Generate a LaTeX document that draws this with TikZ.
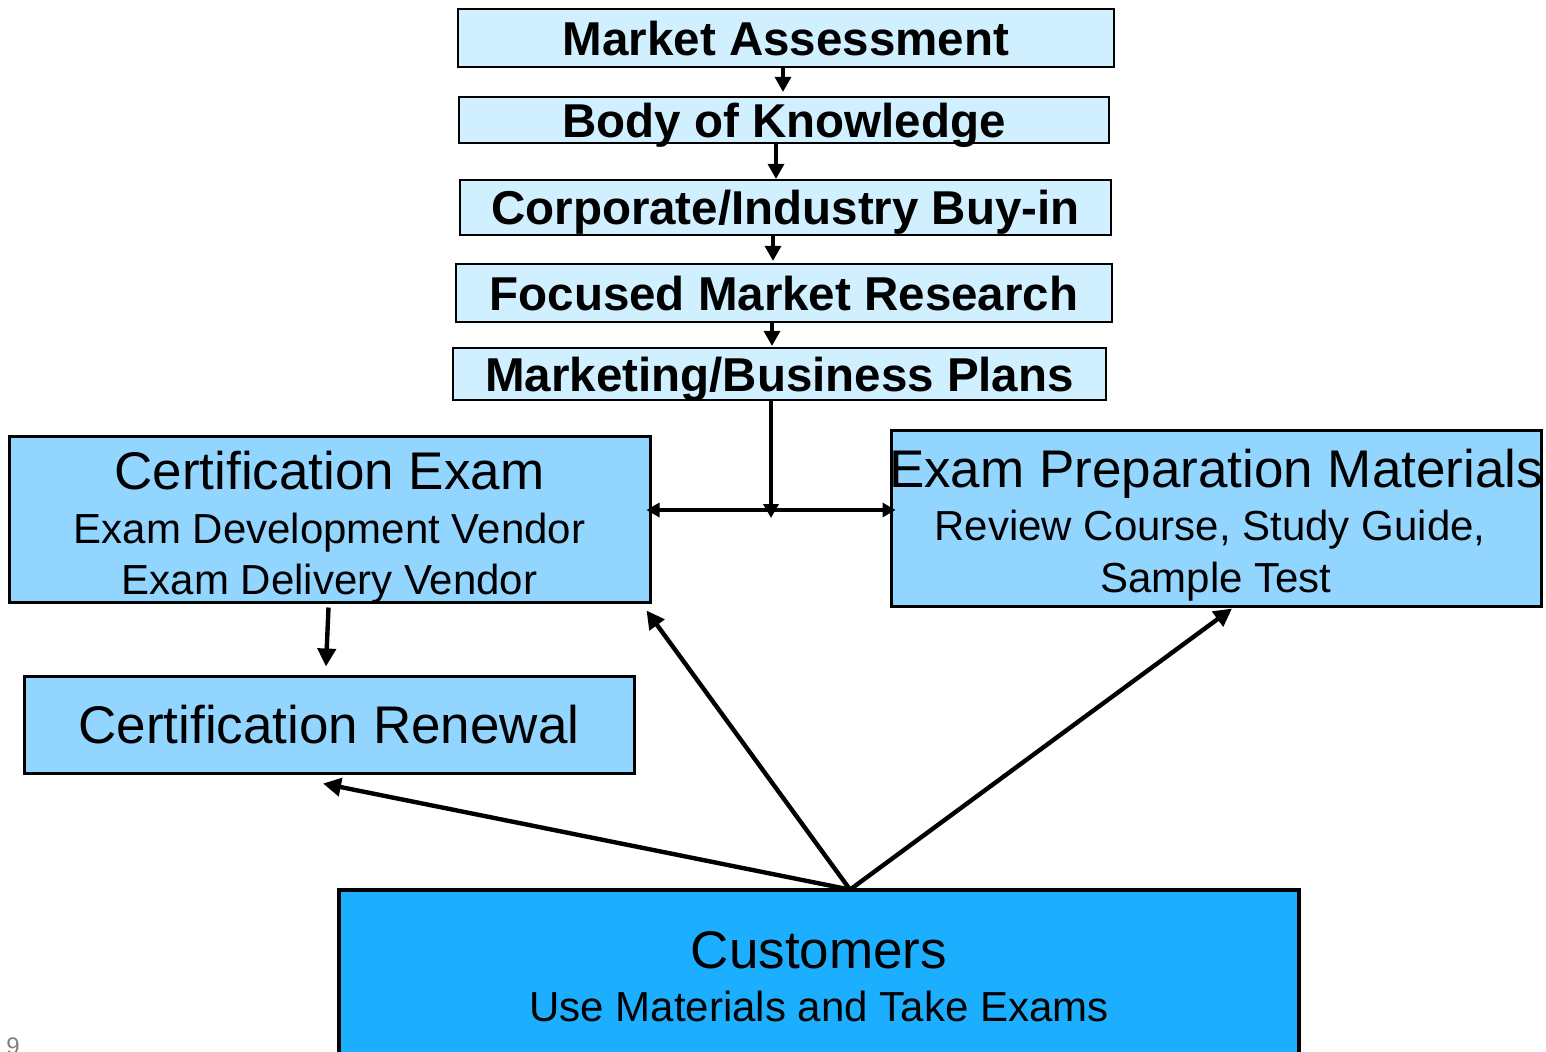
\documentclass[tikz,border=0pt]{standalone}
\usepackage{fontspec}
\setmainfont{Liberation Sans}
\usepackage{xcolor}
\usetikzlibrary{arrows.meta,calc,positioning}
\definecolor{paleblue}{HTML}{D0F0FF}
\definecolor{midblue}{HTML}{92D5FF}
\definecolor{deepblue}{HTML}{1CAFFF}
\tikzset{
  topbox/.style={draw=black, line width=1.1pt, fill=paleblue, inner sep=0pt,
    font=\bfseries\fontsize{23.75}{28}\selectfont, text height=17pt, text depth=0pt},
  midbox/.style={draw=black, line width=1.5pt, fill=midblue, inner sep=0pt,
    font=\fontsize{26.5}{30}\selectfont, text height=19pt, text depth=0pt},
  custbox/.style={draw=black, line width=2.4pt, fill=deepblue, inner sep=0pt},
  bigtxt/.style={font=\fontsize{26.5}{30}\selectfont, anchor=base, inner sep=0pt},
  subtxt/.style={font=\fontsize{21}{25}\selectfont, anchor=base, inner sep=0pt},
  flow/.style={line width=1.6pt, -{Triangle[length=7.5pt,width=8pt]}},
  feed/.style={line width=2.2pt, -{Triangle[length=9pt,width=9pt]}},
}

\begin{document}
\begin{tikzpicture}[x=0.5pt,y=-0.5pt]
    \clip (0,0) rectangle (1546,1051);

    % planning chain
    \node[topbox, minimum width=328pt, minimum height=29pt] (ma) at (786,38) {Market Assessment};
    \node[topbox, minimum width=325pt, minimum height=23pt] (bok) at (784,120) {Body of Knowledge};
    \node[topbox, minimum width=325.5pt, minimum height=27.5pt] (cib) at (785.5,207.5) {Corporate/Industry Buy-in};
    \node[topbox, minimum width=328pt, minimum height=29pt] (fmr) at (784,293) {Focused Market Research};
    \node[topbox, minimum width=326.5pt, minimum height=26pt] (mbp) at (779.5,374) {Marketing/Business Plans};

    \draw[flow] ($(ma.south)+(-3,0)$) -- ($(bok.north)+(-1,-4)$);
    \draw[flow] ($(bok.south)+(-8,0)$) -- ($(cib.north)+(-9.5,0)$);
    \draw[flow] ($(cib.south)+(-12.5,0)$) -- ($(fmr.north)+(-11,-2)$);
    \draw[flow] ($(fmr.south)+(-12,0)$) -- ($(mbp.north)+(-7.5,-1)$);

    % products
    \node[midbox, minimum width=320.5pt, minimum height=83pt] (ce) at (329.5,519) {};
    \node[bigtxt] (ce1) at (329.5,489) {Certification Exam};
    \node[subtxt] (ce2) at (329.5,543) {Exam Development Vendor};
    \node[subtxt] (ce3) at (329.5,594) {Exam Delivery Vendor};

    \node[midbox, minimum width=325pt, minimum height=88pt] (ep) at (1216,518) {};
    \node[bigtxt] (ep1) at (1216,487) {Exam Preparation Materials};
    \node[subtxt] (ep2) at (1210,540) {Review Course, Study Guide,};
    \node[subtxt] (ep3) at (1216,592) {Sample Test};

    \node[midbox, minimum width=305pt, minimum height=48.5pt] (cr) at (329,724.5) {Certification Renewal};

    % split below the plans
    \coordinate (jn) at (771,510);
    \draw[line width=2pt, -{Triangle[length=7pt,width=7.5pt]}] (mbp.south -| jn) -- ([yshift=-4pt]jn);
    \draw[line width=1.6pt, {Triangle[length=6.5pt,width=7pt]}-{Triangle[length=6.5pt,width=7pt]}]
      ([xshift=-2.5pt]ce.east |- jn) -- ([xshift=3pt]ep.west |- jn);
    \draw[feed] ($(ce.south)+(-1,4)$) -- ($(cr.north)+(-3,-8)$);

    % customers
    \node[custbox, minimum width=480pt, minimum height=90pt] (cu) at (819,980) {};
    \node[bigtxt] (cu1) at (819,968) {Customers};
    \node[subtxt] (cu2) at (819,1021) {Use Materials and Take Exams};

    \coordinate (hub) at ($(cu.north)+(31,2)$);
    \draw[feed] (hub) -- ($(cr.south)+(-6,9)$);
    \draw[feed] (hub) -- ($(ce.south east)+(-5,7)$);
    \draw[feed] (hub) -- ($(ep.south)+(16,1)$);

    \node[font=\fontsize{12}{14}\selectfont, text=gray, anchor=base west, inner sep=0pt] (pgno) at (6,1054) {9};
\end{tikzpicture}
\end{document}
